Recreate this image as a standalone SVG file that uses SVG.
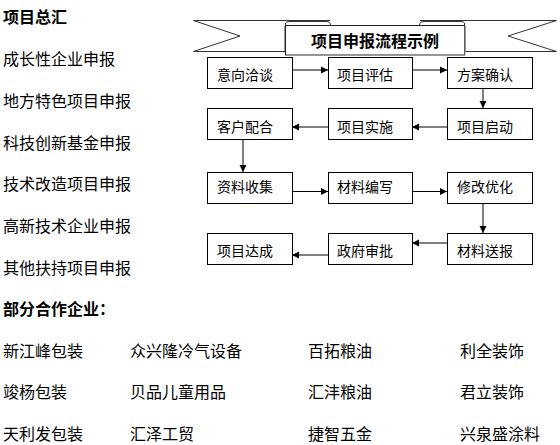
<svg xmlns="http://www.w3.org/2000/svg" width="560" height="445" viewBox="0 0 560 445">
<defs>
<style>
.t{font-family:"Noto Sans CJK SC","Liberation Sans",sans-serif;font-size:16px;fill:#000}
.b{font-weight:bold}
.n{font-family:"Noto Sans CJK SC","Liberation Sans",sans-serif;font-size:14px;fill:#000}
.box{fill:#fff;stroke:#000;stroke-width:1}
.ln{stroke:#000;stroke-width:1;fill:none}
.bn{fill:#fff;stroke:#333;stroke-width:1}
</style>
<marker id="ah" markerWidth="8" markerHeight="8" refX="7" refY="4" orient="auto" markerUnits="userSpaceOnUse">
<path d="M0,0.5 L7,4 L0,7.5 Z" fill="#000"/>
</marker>
</defs>
<rect width="560" height="445" fill="#fff"/>

<g id="summary">
<text class="t b" x="3" y="23">项目总汇</text>
<text class="t" x="3" y="65">成长性企业申报</text>
<text class="t" x="3" y="107">地方特色项目申报</text>
<text class="t" x="3" y="149">科技创新基金申报</text>
<text class="t" x="3" y="190">技术改造项目申报</text>
<text class="t" x="3" y="232">高新技术企业申报</text>
<text class="t" x="3" y="274">其他扶持项目申报</text>
</g>

<g id="banner">
<path class="bn" d="M330,20.5 L193.5,20.5 L240,36 L193.5,51.5 L285,51.5 L285,26 Z"/>
<path class="bn" d="M420,20.5 L556.5,20.5 L508,36 L556.5,51.5 L465,51.5 L465,26 Z"/>
<path class="bn" d="M285.5,25.5 L285.5,23 Q286,21.5 290,21.5 L326,21.5 Q330.5,21.5 330.5,25.5 Z"/>
<path class="bn" d="M464.5,25.5 L464.5,23 Q464,21.5 460,21.5 L424,21.5 Q419.5,21.5 419.5,25.5 Z"/>
<rect x="285.5" y="25.5" width="179" height="29.5" fill="#fff" stroke="#222" stroke-width="1"/>
<path d="M286,55.5 L465,55.5 L465,26" fill="none" stroke="#999" stroke-width="1"/>
<text class="t b" x="375" y="47" text-anchor="middle">项目申报流程示例</text>
</g>

<g id="connectors">
<line class="ln" x1="292" y1="70" x2="328" y2="70" marker-end="url(#ah)"/>
<line class="ln" x1="412" y1="70" x2="447" y2="70" marker-end="url(#ah)"/>
<line class="ln" x1="483" y1="88" x2="483" y2="108" marker-end="url(#ah)"/>
<line class="ln" x1="447" y1="127" x2="412" y2="127" marker-end="url(#ah)"/>
<line class="ln" x1="328" y1="127" x2="292" y2="127" marker-end="url(#ah)"/>
<line class="ln" x1="243" y1="139" x2="243" y2="172" marker-end="url(#ah)"/>
<line class="ln" x1="292" y1="191.5" x2="328" y2="191.5" marker-end="url(#ah)"/>
<line class="ln" x1="412" y1="191.5" x2="447" y2="191.5" marker-end="url(#ah)"/>
<line class="ln" x1="483" y1="203" x2="483" y2="233" marker-end="url(#ah)"/>
<line class="ln" x1="447" y1="243" x2="412" y2="243" marker-end="url(#ah)"/>
<line class="ln" x1="328" y1="255" x2="292" y2="255" marker-end="url(#ah)"/>
</g>

<g id="n1"><rect class="box" x="207.5" y="57.5" width="85" height="31"/><text class="n" x="217" y="80">意向洽谈</text></g>
<g id="n2"><rect class="box" x="328.5" y="57.5" width="84" height="31"/><text class="n" x="337" y="80">项目评估</text></g>
<g id="n3"><rect class="box" x="447.5" y="57.5" width="85" height="31"/><text class="n" x="457" y="80">方案确认</text></g>
<g id="n4"><rect class="box" x="447.5" y="108.5" width="85" height="31"/><text class="n" x="457" y="132">项目启动</text></g>
<g id="n5"><rect class="box" x="328.5" y="108.5" width="84" height="31"/><text class="n" x="337" y="132">项目实施</text></g>
<g id="n6"><rect class="box" x="207.5" y="108.5" width="85" height="31"/><text class="n" x="217" y="132">客户配合</text></g>
<g id="n7"><rect class="box" x="207.5" y="172.5" width="85" height="31"/><text class="n" x="217" y="192">资料收集</text></g>
<g id="n8"><rect class="box" x="328.5" y="172.5" width="84" height="31"/><text class="n" x="337" y="192">材料编写</text></g>
<g id="n9"><rect class="box" x="447.5" y="172.5" width="85" height="31"/><text class="n" x="457" y="192">修改优化</text></g>
<g id="n10"><rect class="box" x="447.5" y="233.5" width="85" height="31"/><text class="n" x="457" y="256">材料送报</text></g>
<g id="n11"><rect class="box" x="328.5" y="233.5" width="84" height="31"/><text class="n" x="337" y="256">政府审批</text></g>
<g id="n12"><rect class="box" x="207.5" y="233.5" width="85" height="31"/><text class="n" x="217" y="256">项目达成</text></g>

<g id="partners">
<text class="t b" x="3" y="315">部分合作企业：</text>
<text class="t" x="3" y="357">新江峰包装</text>
<text class="t" x="130" y="357">众兴隆冷气设备</text>
<text class="t" x="308" y="357">百拓粮油</text>
<text class="t" x="460" y="357">利全装饰</text>
<text class="t" x="3" y="398">竣杨包装</text>
<text class="t" x="130" y="398">贝品儿童用品</text>
<text class="t" x="308" y="398">汇沣粮油</text>
<text class="t" x="460" y="398">君立装饰</text>
<text class="t" x="3" y="440">天利发包装</text>
<text class="t" x="130" y="440">汇泽工贸</text>
<text class="t" x="308" y="440">捷智五金</text>
<text class="t" x="460" y="440">兴泉盛涂料</text>
</g>
</svg>
